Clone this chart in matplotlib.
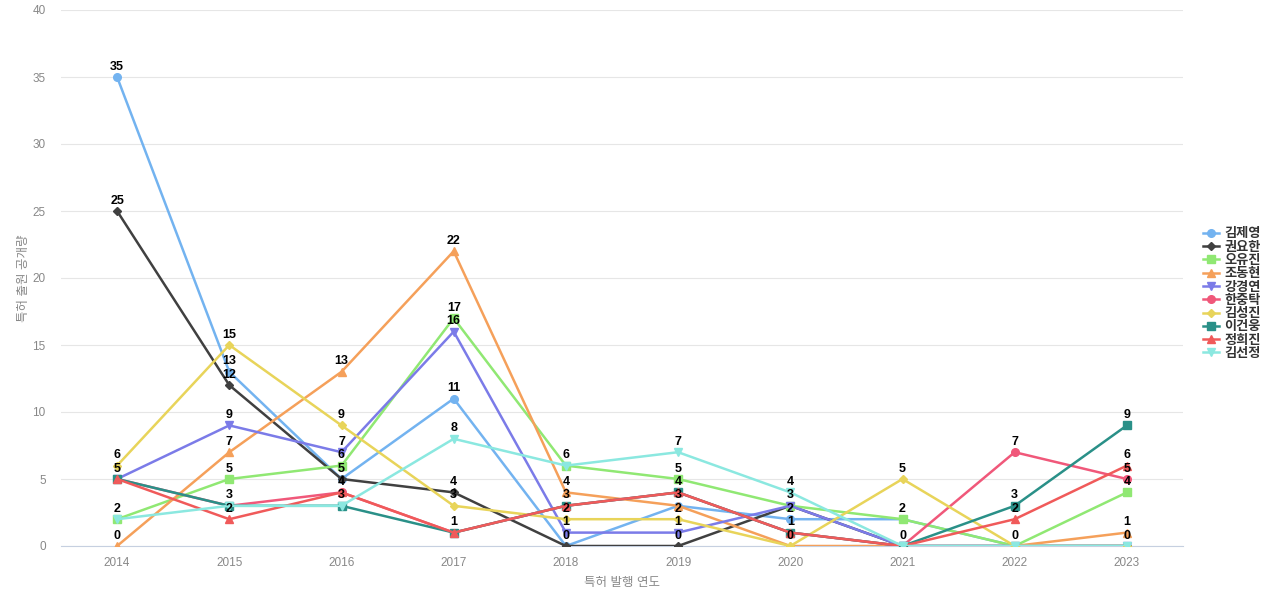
import numpy as np
import matplotlib.pyplot as plt

plt.rcParams['font.family'] = ['Liberation Sans', 'Noto Sans CJK KR', 'DejaVu Sans']

years = ['2014', '2015', '2016', '2017', '2018', '2019', '2020', '2021', '2022', '2023']
names = ['김제영', '권요한', '오유진', '조동현', '강경연', '한중탁', '김성진', '이건웅', '정희진', '김선정']

kim_jy = [35, 13, 5, 11, 0, 3, 2, 2, 0, 0]
kwon_yh = [25, 12, 5, 4, 0, 0, 3, 0, 0, 0]
oh_yj = [2, 5, 6, 17, 6, 5, 3, 2, 0, 4]
jo_dh = [0, 7, 13, 22, 4, 3, 0, 0, 0, 1]
kang_gy = [5, 9, 7, 16, 1, 1, 3, 0, 0, 0]
han_jt = [5, 3, 4, 1, 3, 4, 1, 0, 7, 5]
kim_sj = [6, 15, 9, 3, 2, 2, 0, 5, 0, 0]
lee_gw = [5, 3, 3, 1, 3, 4, 1, 0, 3, 9]
jung_hj = [5, 2, 4, 1, 3, 4, 1, 0, 2, 6]
kim_sjg = [2, 3, 3, 8, 6, 7, 4, 0, 0, 0]

series = [kim_jy, kwon_yh, oh_yj, jo_dh, kang_gy, han_jt, kim_sj, lee_gw, jung_hj, kim_sjg]
colors = ['#73b3f0', '#404040', '#90e873', '#f5a05a', '#7b7be8',
          '#f0587a', '#e8d45a', '#2a9088', '#f05a5a', '#8be8e0']
markers = ['o', 'D', 's', '^', 'v', 'o', 'D', 's', '^', 'v']
msizes = [5.5, 4, 5.5, 6, 6, 5.5, 4, 5.5, 6, 6]

fig = plt.figure(figsize=(12.8, 6), dpi=100)
ax = fig.add_axes([61 / 1280, 54 / 600, 1122 / 1280, 536 / 600])

x = np.arange(len(years))
done = set()
for vals, name, c, m, ms in zip(series, names, colors, markers, msizes):
    ax.plot(x, vals, color=c, marker=m, markersize=ms, lw=1.8, label=name, zorder=3)
    for xi, v in zip(x, vals):
        # overlapping labels only once
        if (xi, v) in done:
            continue
        done.add((xi, v))
        ax.annotate(str(v), (xi, v), xytext=(0, 7.5), textcoords='offset points',
                    ha='center', va='center', fontsize=9, fontweight='bold',
                    color='black', zorder=5)

ax.set_xlim(-0.5, len(years) - 0.5)
ax.set_ylim(0, 40)
ax.set_yticks(np.arange(0, 41, 5))
ax.set_xticks(x)
ax.set_xticklabels(years)
ax.grid(axis='y', color='#e6e6e6', lw=0.8)
ax.set_axisbelow(True)
for s in ['top', 'right', 'left']:
    ax.spines[s].set_visible(False)
ax.spines['bottom'].set_color('#c6d0e0')
ax.tick_params(axis='both', length=0, colors='#888888', labelsize=8.5)
ax.tick_params(axis='x', pad=8)
ax.tick_params(axis='y', pad=11)

ax.set_xlabel('특허 발행 연도', color='#888888', fontsize=9, labelpad=6)
ax.set_ylabel('특허 출원 공개량', color='#888888', fontsize=9, labelpad=2)

leg = ax.legend(loc='center left', bbox_to_anchor=(1203 / 1122 - 61 / 1122, 0.47),
                frameon=False, fontsize=9.5, handlelength=1.2, handletextpad=0.4,
                labelspacing=0.08, borderaxespad=0, borderpad=0)
for t in leg.get_texts():
    t.set_fontweight('bold')
    t.set_color('#333333')

fig.savefig('out.png', dpi=100)
